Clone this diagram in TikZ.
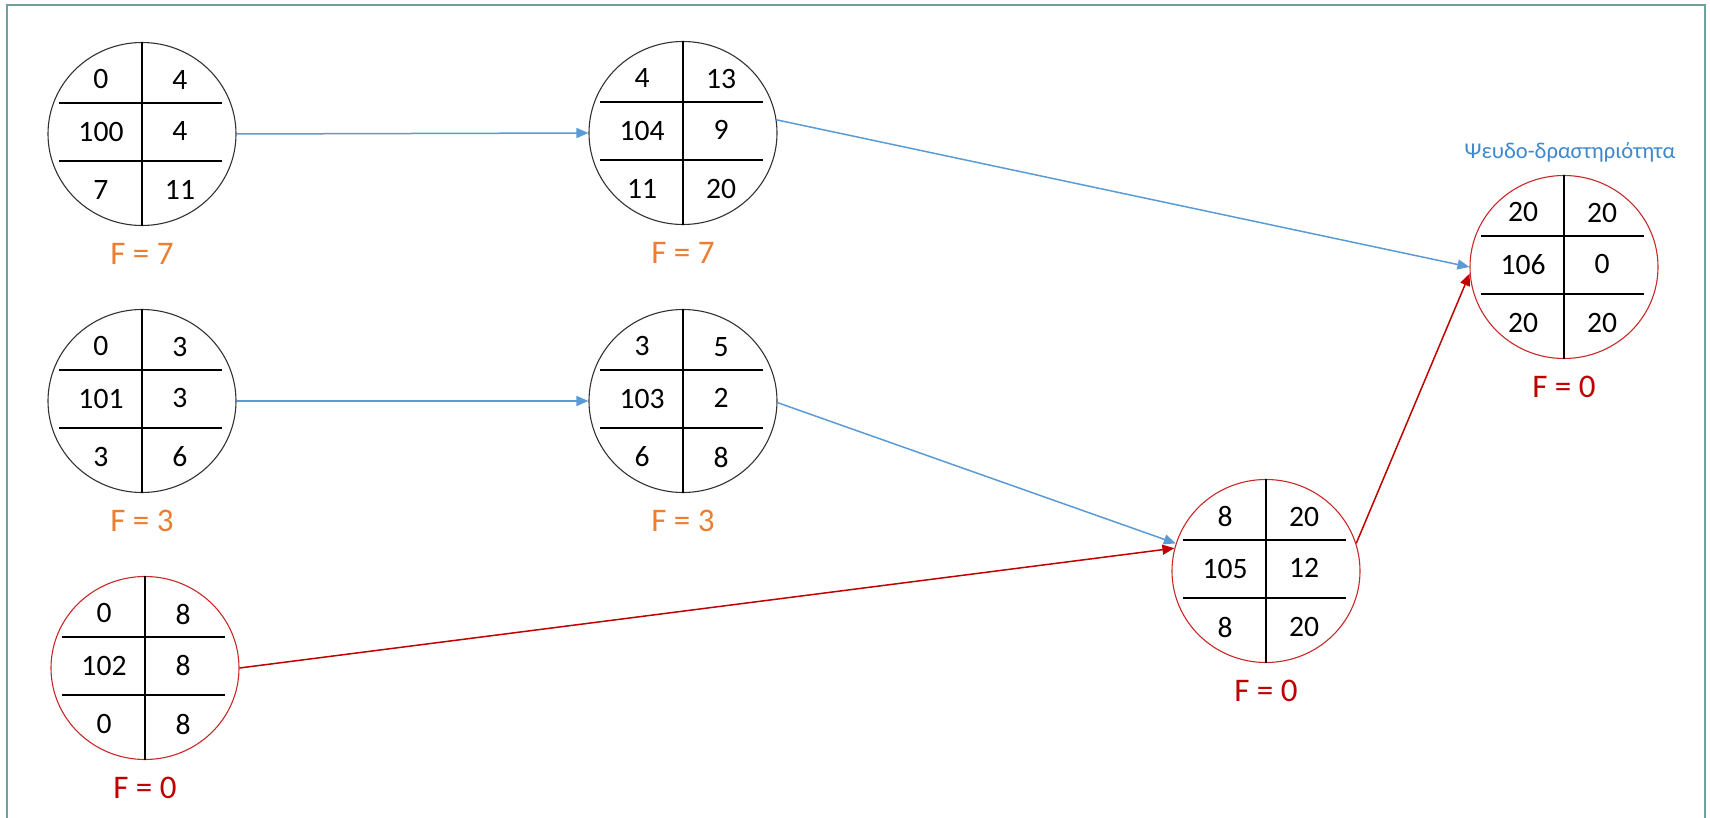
\documentclass[tikz,border=0pt]{standalone}
\usepackage{fontspec}
\setmainfont{Carlito}
\usetikzlibrary{shapes.geometric,arrows.meta}

\definecolor{lineblue}{RGB}{91,155,213}
\definecolor{labelblue}{RGB}{62,136,204}
\definecolor{critred}{RGB}{192,0,0}
\definecolor{ringred}{RGB}{200,40,40}
\definecolor{ringgray}{RGB}{50,50,50}
\definecolor{floatorange}{RGB}{237,125,49}
\definecolor{framecol}{RGB}{110,160,160}

\begin{document}
\begin{tikzpicture}[
  x=0.5pt, y=-0.5pt,
  >={Triangle[length=6pt,width=5pt]},
  act/.style={ellipse, draw, line width=0.55pt, inner sep=0pt,
    minimum width=94pt, minimum height=91.5pt},
  cell/.style={font=\fontsize{14.8}{16}\selectfont, inner sep=0pt},
  flabel/.style={font=\fontsize{16.5}{18}\selectfont, inner sep=0pt},
  grid/.style={line width=0.8pt},
  link/.style={->, line width=0.75pt, lineblue},
  crit/.style={->, line width=0.75pt, critred}
]
  \useasboundingbox (0,0) rectangle (1710,818);
  \draw[framecol, line width=1.2pt] (7,818) -- (7,5) -- (1705,5) -- (1705,818);

  % activities: id/x/y/ring/F colour/tl/tr/mr/bl/br/F
  \foreach \n/\x/\y/\c/\fc/\a/\b/\m/\d/\e/\F in {
      100/142/134/ringgray/floatorange/0/4/4/7/11/7,
      104/683/133/ringgray/floatorange/4/13/9/11/20/7,
      101/142/401/ringgray/floatorange/0/3/3/3/6/3,
      103/683/401/ringgray/floatorange/3/5/2/6/8/3,
      102/145/668/ringred/critred/0/8/8/0/8/0,
      105/1266/571/ringred/critred/8/20/12/8/20/0,
      106/1564/267/ringred/critred/20/20/0/20/20/0} {
    \node[act, draw=\c] (n\n) at (\x,\y) {};
    \draw[grid] (n\n.north) -- (n\n.south);
    \draw[grid] (\x-83,\y-31) -- (\x+80,\y-31);
    \draw[grid] (\x-83,\y+27) -- (\x+80,\y+27);
    \node[cell] (n\n-tl) at (\x-41,\y-55) {\a};
    \node[cell] (n\n-tr) at (\x+38,\y-54) {\b};
    \node[cell] (n\n-ml) at (\x-41,\y-2) {\n};
    \node[cell] (n\n-mr) at (\x+38,\y-3) {\m};
    \node[cell] (n\n-bl) at (\x-41,\y+56) {\d};
    \node[cell] (n\n-br) at (\x+38,\y+56) {\e};
    \node[flabel, text=\fc] (n\n-f) at (\x,\y+120) {F = \F};
  }

  \node[font=\fontsize{11.3}{13}\selectfont, text=labelblue] (dummy) at (1570,152)
    {Ψευδο-δραστηριότητα};

  \draw[link] (n100.east) -- (n104.west);
  \draw[link] (n104.8) -- (n106.west);
  \draw[link] (n101.east) -- (n103.west);
  \draw[link] (n103.-1) -- (n105.163);
  \draw[crit] (n102.east) -- (n105.166);
  \draw[crit] (n105.17) -- (n106.184);
\end{tikzpicture}
\end{document}
